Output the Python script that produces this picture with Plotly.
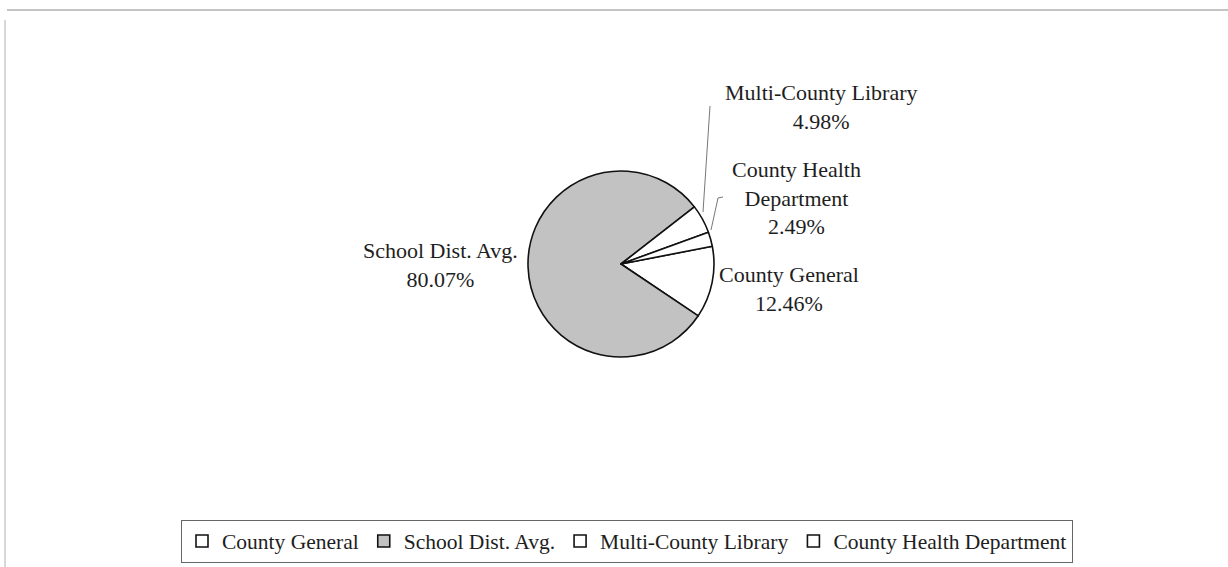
import plotly.graph_objects as go

W, H = 1228, 567

categories = ["County General", "School Dist. Avg.", "Multi-County Library", "County Health Department"]
values = [12.46, 80.07, 4.98, 2.49]
label_texts = ["County General", "School Dist. Avg.", "Multi-County Library", "County Health<br>Department"]
colors = ["#ffffff", "#c2c2c2", "#ffffff", "#ffffff"]

FONT = "Liberation Serif"
TXT = "#1e1e1e"

def px(x):
    return x / W

def py(y):
    return 1 - y / H

# pie geometry (pixels)
cx, cy, r = 621, 264, 93

fig = go.Figure()
fig.add_trace(go.Pie(
    labels=categories,
    values=values,
    sort=False,
    direction="clockwise",
    rotation=79,
    textinfo="none",
    hoverinfo="label+percent",
    marker=dict(colors=colors, line=dict(color="#111111", width=1.6)),
    domain=dict(x=[px(cx - r), px(cx + r)], y=[py(cy + r), py(cy - r)]),
    showlegend=True,
))

# label positions (pixel centers)
label_pos = [(789, 289), (440, 265), (821, 107), (796, 198)]
for name, txt, v, (lx, ly) in zip(categories, label_texts, values, label_pos):
    fig.add_annotation(
        x=px(lx), y=py(ly), xref="paper", yref="paper",
        text=f"{txt}<br>{v:.2f}%", showarrow=False,
        font=dict(family=FONT, size=22, color=TXT),
        align="center", xanchor="center", yanchor="middle",
    )

shapes = [
    # leader lines
    dict(type="path", path=f"M {px(703)} {py(212)} L {px(710)} {py(106)}",
         xref="paper", yref="paper", line=dict(color="#777777", width=1)),
    dict(type="path", path=f"M {px(711)} {py(230)} L {px(718)} {py(198)} L {px(723)} {py(197)}",
         xref="paper", yref="paper", line=dict(color="#777777", width=1)),
    # chart frame remnants
    dict(type="line", x0=px(7), x1=1, y0=py(10), y1=py(10), xref="paper", yref="paper",
         line=dict(color="#8a8a8a", width=1)),
    dict(type="line", x0=px(5), x1=px(5), y0=py(20), y1=0, xref="paper", yref="paper",
         line=dict(color="#b0b0b0", width=1)),
]

fig.update_layout(
    width=W, height=H,
    margin=dict(l=0, r=0, t=0, b=0),
    paper_bgcolor="white",
    plot_bgcolor="white",
    shapes=shapes,
    legend=dict(
        orientation="h",
        x=px(627), y=py(541), xanchor="center", yanchor="middle",
        font=dict(family=FONT, size=21.5, color=TXT),
        bordercolor="#666666", borderwidth=1,
        itemwidth=30, traceorder="normal",
        bgcolor="white",
    ),
)

fig.write_html("out.html")
